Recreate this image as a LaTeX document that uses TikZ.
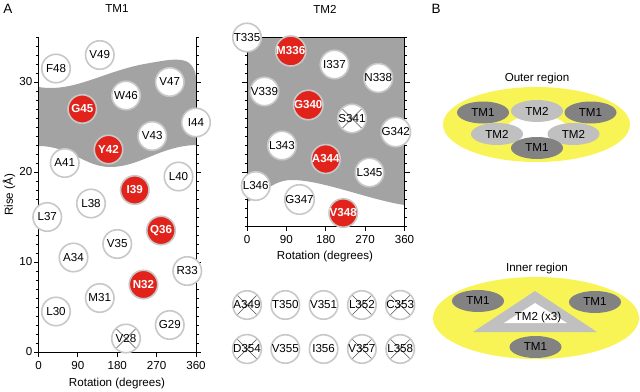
\documentclass[tikz,border=0pt]{standalone}
\usepackage{fontspec}
\setmainfont{Liberation Sans}
\usetikzlibrary{shapes.geometric}
\definecolor{bandgray}{RGB}{163,163,163}
\definecolor{ringgray}{RGB}{200,200,200}
\definecolor{resred}{RGB}{226,35,28}
\definecolor{xcol}{RGB}{80,80,80}
\definecolor{yel}{RGB}{249,244,85}
\definecolor{tmdark}{RGB}{130,130,130}
\definecolor{tmlight}{RGB}{192,192,192}
\begin{document}
\begin{tikzpicture}[x=1pt,y=-1pt,
  lab/.style={font=\fontsize{11.6}{13}\selectfont, inner sep=0pt},
  panel/.style={font=\fontsize{13.5}{15}\selectfont, inner sep=0pt},
  res/.style={circle, draw=ringgray, line width=1.6pt, fill=white, minimum size=28.5pt, inner sep=0pt, font=\fontsize{11.6}{13}\selectfont},
  redres/.style={res, fill=resred, text=white, font=\fontsize{11.6}{13}\selectfont\bfseries},
  xres/.style={res, path picture={\draw[xcol, line width=0.5pt] (path picture bounding box.north west) -- (path picture bounding box.south east) (path picture bounding box.north east) -- (path picture bounding box.south west);}},
  axis/.style={line width=0.8pt, black},
  tmell/.style={ellipse, minimum width=52pt, minimum height=22pt, inner sep=0pt, font=\fontsize{11.6}{13}\selectfont}]
\useasboundingbox (0,0) rectangle (640,391);

% ---------- titles ----------
\node[panel] (labA) at (8,9) {A};
\node[lab] (titTM1) at (117,9) {TM1};
\node[lab] (titTM2) at (325,9) {TM2};
\node[panel] (labB) at (436,9) {B};

% ---------- TM1 band ----------
\fill[bandgray] (38.5,87) .. controls (75,93) and (105,70) .. (150,63)
  .. controls (172,59) and (186,57) .. (192,66) .. controls (195,70) and (196,74) .. (196,80)
  -- (196,145) .. controls (160,146) and (140,167) .. (110,167)
  .. controls (85,167) and (70,146) .. (38.5,146) -- cycle;

% ---------- TM1 axes ----------
\draw[axis] (38.5,37) -- (38.5,352) -- (196,352) -- (196,37);
\foreach \r in {0,...,35} {
  \draw[line width=0.6pt] (38.5,{352-9*\r}) -- ++(-2.5,0);
  \draw[line width=0.6pt] (196,{352-9*\r}) -- ++(2.5,0);
}
\foreach \r in {0,10,20,30} {
  \draw[axis] (38.5,{352-9*\r}) -- ++(-5,0);
  \draw[axis] (196,{352-9*\r}) -- ++(5,0);
  \node[lab, anchor=east] (yl\r) at (32.5,{352-9*\r}) {\r};
}
\foreach \d in {0,90,180,270,360} {
  \draw[axis] ({38.5+0.4375*\d},352) -- ++(0,5);
  \node[lab] (xa\d) at ({38.5+0.4375*\d},366) {\d};
}
\node[lab] (xt1) at (117,383) {Rotation (degrees)};
\node[lab, rotate=90] (yt1) at (9,195) {Rise (Å)};

% ---------- TM2 band ----------
\fill[bandgray] (247,37) -- (404.5,37) -- (404.5,205)
  .. controls (370,200) and (322,180) .. (292,180)
  .. controls (270,180) and (260,198) .. (247,202) -- cycle;

% ---------- TM2 axes ----------
\draw[axis] (247,37) -- (247,226) -- (404.5,226) -- (404.5,37) -- cycle;
\foreach \k in {-5,...,16} {
  \draw[line width=0.6pt] (247,{82+9*\k}) -- ++(-2.5,0);
  \draw[line width=0.6pt] (404.5,{82+9*\k}) -- ++(2.5,0);
}
\foreach \k in {0,10} {
  \draw[axis] (247,{82+9*\k}) -- ++(-5,0);
  \draw[axis] (404.5,{82+9*\k}) -- ++(5,0);
}
\foreach \d in {0,90,180,270,360} {
  \draw[axis] ({247+0.4375*\d},226) -- ++(0,5);
  \node[lab] (xb\d) at ({247+0.4375*\d},240) {\d};
}
\node[lab] (xt2) at (325,256) {Rotation (degrees)};

% ---------- TM1 residues ----------
\foreach \n/\a/\l in {29/300/G,30/40/L,31/140/M,33/340/R,34/80/A,35/180/V,37/20/L,38/120/L,40/320/L,41/60/A,43/260/V,44/360/I,46/200/W,47/300/V,48/40/F,49/140/V}
  \node[res] (t1r\n) at ({38.5+0.4375*\a},{352-13.5*(\n-27)}) {\l\n};
\foreach \n/\a/\l in {32/240/N,36/280/Q,39/220/I,42/160/Y,45/100/G}
  \node[redres] (t1r\n) at ({38.5+0.4375*\a},{352-13.5*(\n-27)}) {\l\n};
\node[xres] (t1r28) at ({38.5+0.4375*200},{352-13.5}) {V28};

% ---------- TM2 residues ----------
\foreach \n/\a/\l in {335/0/T,337/200/I,338/300/N,339/40/V,342/340/G,343/80/L,345/280/L,346/20/L,347/120/G}
  \node[res] (t2r\n) at ({247+0.4375*\a},{51+13.5*(\n-336)}) {\l\n};
\foreach \n/\a/\l in {336/100/M,340/140/G,344/180/A,348/220/V}
  \node[redres] (t2r\n) at ({247+0.4375*\a},{51+13.5*(\n-336)}) {\l\n};
\node[xres] (t2r341) at ({247+0.4375*240},{51+13.5*5}) {S341};

% ---------- TM2 extra residues ----------
\node[xres] (t2r349) at (247,305) {A349};
\node[res]  (t2r350) at (285.3,305) {T350};
\node[res]  (t2r351) at (323.6,305) {V351};
\node[xres] (t2r352) at (361.9,305) {L352};
\node[xres] (t2r353) at (400.2,305) {C353};
\node[xres] (t2r354) at (247,349) {D354};
\node[res]  (t2r355) at (285.3,349) {V355};
\node[res]  (t2r356) at (323.6,349) {I356};
\node[xres] (t2r357) at (361.9,349) {V357};
\node[xres] (t2r358) at (400.2,349) {L358};

% ---------- Panel B: outer region ----------
\node[lab] (outer) at (537,78) {Outer region};
\fill[yel] (536.5,124.5) ellipse [x radius=93.5, y radius=37.5];
\fill[white] (537,129) ellipse [x radius=30, y radius=14];
\node[tmell, fill=tmdark]  (o1) at (483,112.5) {TM1};
\node[tmell, fill=tmlight] (o2) at (537,111) {TM2};
\node[tmell, fill=tmdark]  (o3) at (590.5,112.5) {TM1};
\node[tmell, fill=tmlight] (o4) at (497,134) {TM2};
\node[tmell, fill=tmlight] (o5) at (573.5,134) {TM2};
\node[tmell, fill=tmdark]  (o6) at (537,148) {TM1};

% ---------- Panel B: inner region ----------
\node[lab] (inner) at (537,268) {Inner region};
\fill[yel] (536,318) ellipse [x radius=103, y radius=41];
\fill[tmlight] (535,291) -- (473,332) -- (597,332) -- cycle;
\fill[white] (535,303) -- (504,323) -- (567,323) -- cycle;
\node[lab] (tri) at (538,317) {TM2 (x3)};
\node[tmell, fill=tmdark] (i1) at (478,301) {TM1};
\node[tmell, fill=tmdark] (i2) at (595,302) {TM1};
\node[tmell, fill=tmdark] (i3) at (535.5,347) {TM1};
\end{tikzpicture}
\end{document}
